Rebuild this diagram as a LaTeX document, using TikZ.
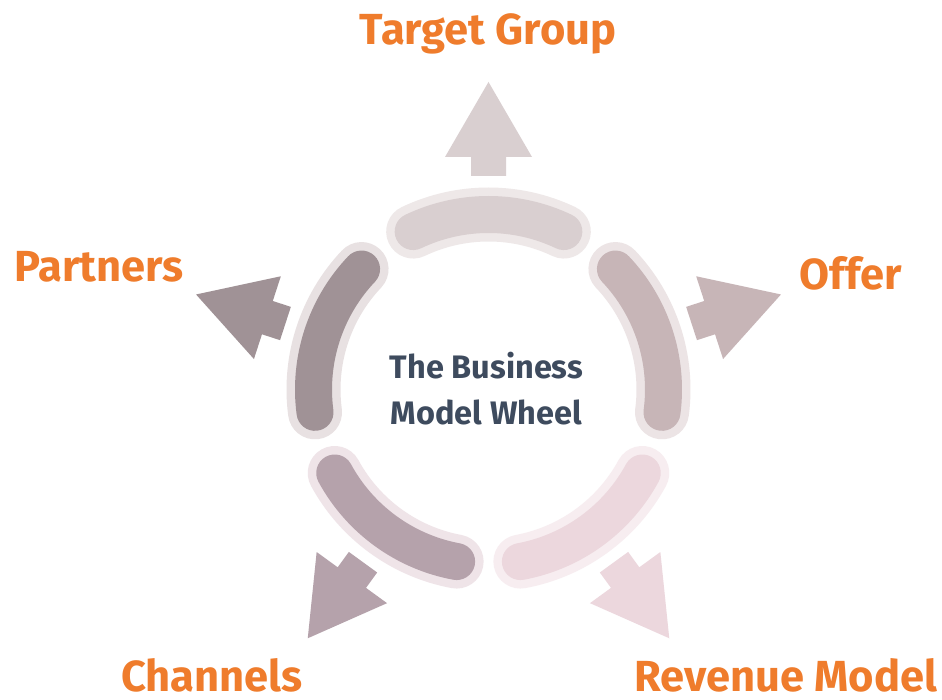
\documentclass[tikz,border=0pt]{standalone}
\usepackage{fontspec}
\setmainfont{Fira Sans}

\definecolor{labelorange}{HTML}{EF7C2C}
\definecolor{hubtext}{HTML}{3E4B5E}
% segment colours: solid band / soft outer rim
\definecolor{segA}{HTML}{D9CFD0}\definecolor{rimA}{HTML}{EEE8E8}
\definecolor{segB}{HTML}{C7B5B7}\definecolor{rimB}{HTML}{ECE4E5}
\definecolor{segC}{HTML}{ECD7DD}\definecolor{rimC}{HTML}{F7EDF0}
\definecolor{segD}{HTML}{B5A2AB}\definecolor{rimD}{HTML}{EFE4E8}
\definecolor{segE}{HTML}{A09296}\definecolor{rimE}{HTML}{E8E1E2}

\tikzset{
  rim/.style={line width=54pt, line cap=round},
  band/.style={line width=37pt, line cap=round},
  outlabel/.style={font=\bfseries\fontsize{43.5}{46}\selectfont, text=labelorange, inner sep=0pt},
  hublabel/.style={font=\bfseries\fontsize{32.5}{46}\selectfont, text=hubtext, align=center, inner sep=0pt}
}

\begin{document}
\begin{tikzpicture}[x=1pt,y=1pt]
\useasboundingbox (0,0) rectangle (942,700);
\fill[white] (0,0) rectangle (942,700);

\begin{scope}[shift={(488.5,310.5)}]
  \foreach \a/\seg/\rimc in {90/segA/rimA, 18/segB/rimB, -54/segC/rimC, -126/segD/rimD, 162/segE/rimE} {
    % curved wheel segment with its rim
    \draw[rim, draw=\rimc] ({\a-25.5}:175) arc[start angle={\a-25.5}, end angle={\a+25.5}, radius=175];
    \draw[band, draw=\seg] ({\a-25.5}:175) arc[start angle={\a-25.5}, end angle={\a+25.5}, radius=175];
    % outward arrow
    \fill[\seg, rotate=\a] (213.5,-17.5) -- (232.5,-17.5) -- (232.5,-43.5) -- (307.5,0)
      -- (232.5,43.5) -- (232.5,17.5) -- (213.5,17.5) -- cycle;
  }
\end{scope}

\node[hublabel, anchor=center] (hub) at (486.5,311) {The Business\\Model Wheel};

\node[outlabel, anchor=base] (target) at (488,655) {Target Group};
\node[outlabel, anchor=base] (offer) at (850.5,410) {Offer};
\node[outlabel, anchor=base] (partners) at (99,418) {Partners};
\node[outlabel, anchor=base] (channels) at (212,8) {Channels};
\node[outlabel, anchor=base] (revenue) at (786,8) {Revenue Model};
\end{tikzpicture}
\end{document}
